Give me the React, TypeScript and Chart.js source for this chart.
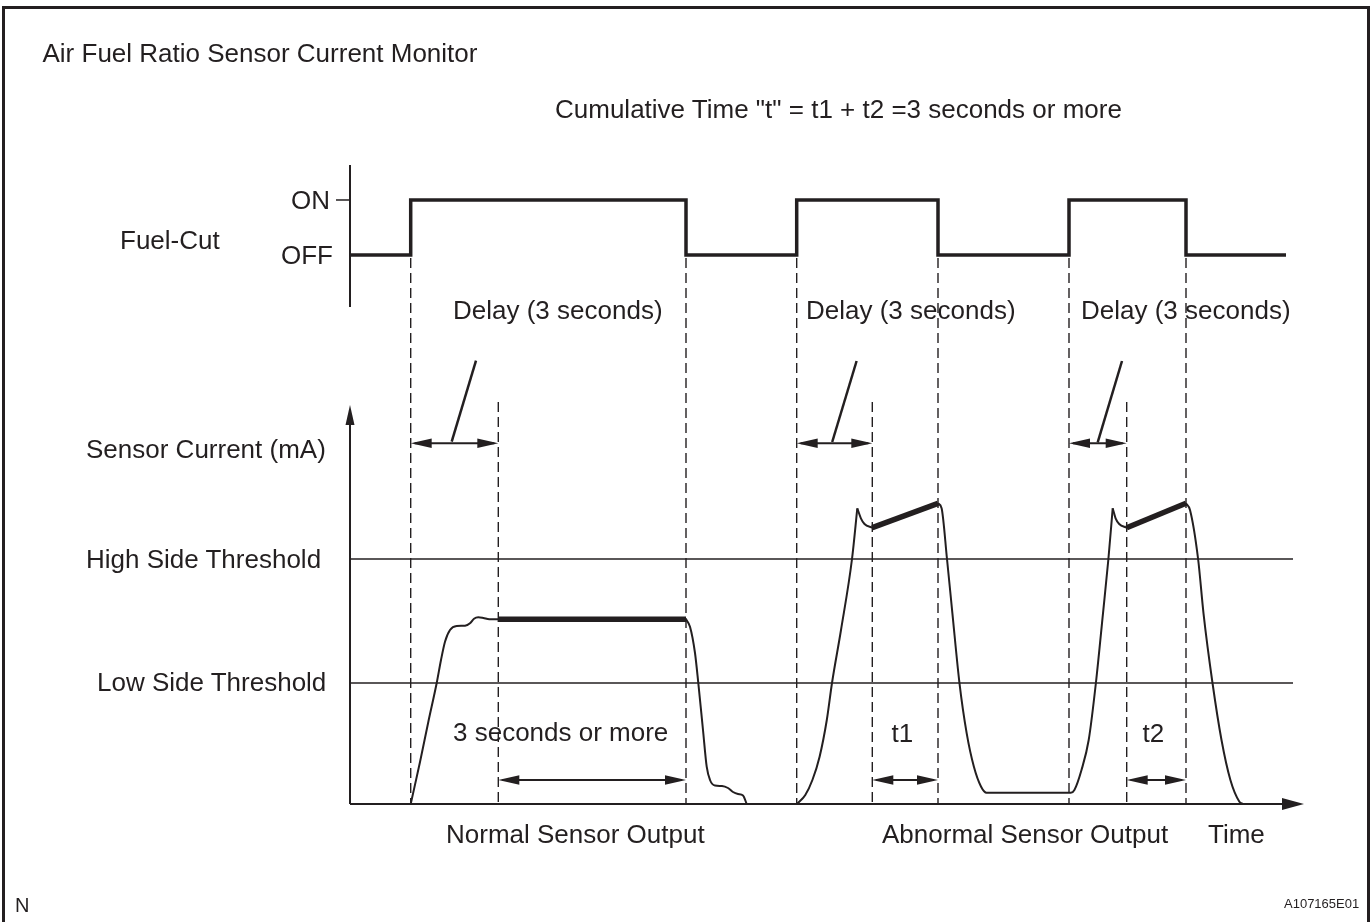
import React, { useEffect, useRef } from "react";
import { Chart, registerables } from "chart.js";

Chart.register(...registerables);

const INK = "#231f20";
const FONT = '"Liberation Sans", Arial, Helvetica, sans-serif';

// ---- time axis (arbitrary time units) ----
const fuelCutOn = [6.07, 44.67, 71.9];
const fuelCutOff = [33.6, 58.8, 83.6];
const fuelCutEnd = 93.6;
const delayEnd = [14.83, 52.23, 77.67];
const timeAxisEnd = 95.4;
const thresholdEnd = 94.3;

// ---- fuel-cut states ----
const fuelCutLevels = { OFF: 0, ON: 1 };
const fuelCutAxisRange = [-0.945, 1.636];
const onTickStart = -1.4;

// ---- sensor current (arbitrary mA units) ----
const highThreshold = 24.5;
const lowThreshold = 12.1;
const currentAxisTop = 39.9;
const delayMarkTop = 40.2;
const delayArrowLevel = 36.07;
const holdArrowLevel = 2.4;

const normalRise: [number, number][] = [
  [6.07, 0], [7.0, 4.2], [7.83, 8.2], [8.67, 12.1], [9.1, 14.4], [9.5, 16.23],
  [10.0, 17.4], [10.67, 17.8], [11.5, 17.83], [12.0, 18.07], [12.4, 18.53],
  [12.83, 18.67], [13.33, 18.6], [13.93, 18.47], [14.83, 18.47],
];
const normalHold: [number, number][] = [[14.83, 18.47], [33.6, 18.47]];
const normalFall: [number, number][] = [
  [33.6, 18.47], [34.0, 17.73], [34.5, 15.1], [34.83, 12.1], [35.3, 7.4],
  [35.67, 3.73], [36.0, 2.4], [36.5, 1.85], [37.2, 1.8], [37.8, 1.6],
  [38.3, 1.2], [38.8, 1.0], [39.3, 0.85], [39.67, 0],
];

const abnormalRise1: [number, number][] = [
  [44.7, 0], [45.53, 0.9], [46.24, 2.4], [46.96, 4.73], [47.68, 8.4],
  [48.2, 12.1], [49.1, 17.4], [50.2, 24.5], [50.73, 29.57],
];
const abnormalDip1: [number, number][] = [[50.73, 29.57], [51.09, 28.57], [51.45, 28.0], [52.23, 27.63]];
const abnormalHold1: [number, number][] = [[52.23, 27.63], [58.8, 30.07]];
const abnormalFall1: [number, number][] = [
  [58.8, 30.07], [59.16, 29.57], [59.7, 24.5], [60.24, 19.07], [60.95, 12.07],
  [61.67, 7.07], [62.39, 3.73], [63.11, 1.73], [63.65, 1.13],
];
const restingCurrent: [number, number][] = [[63.65, 1.13], [72.08, 1.13]];
const abnormalRise2: [number, number][] = [
  [72.08, 1.13], [72.44, 1.4], [73.15, 3.4], [73.87, 6.4], [74.59, 12.1],
  [75.3, 19.07], [75.84, 24.5], [76.27, 29.57],
];
const abnormalDip2: [number, number][] = [[76.27, 29.57], [76.56, 28.57], [76.92, 28.0], [77.67, 27.63]];
const abnormalHold2: [number, number][] = [[77.67, 27.63], [83.6, 30.07]];
const abnormalFall2: [number, number][] = [
  [83.6, 30.07], [84.0, 29.4], [84.81, 24.5], [85.35, 19.07], [86.25, 12.1],
  [87.15, 6.4], [88.04, 2.4], [88.94, 0.23], [89.3, 0],
];

const leaderBottoms: [number, number][] = [[10.17, 36.23], [48.22, 36.2], [74.77, 36.17]];
const leaderTops: [number, number][] = [[12.6, 44.33], [50.66, 44.3], [77.2, 44.3]];

// ---- texts ----
const texts: { t: string; x: number; cy: number; fs?: number }[] = [
  { t: "Air Fuel Ratio Sensor Current Monitor", x: 42.5, cy: 52.5 },
  { t: 'Cumulative Time "t" = t1 + t2 =3 seconds or more', x: 555, cy: 108.5 },
  { t: "ON", x: 291, cy: 199.5 },
  { t: "Fuel-Cut", x: 120, cy: 240 },
  { t: "OFF", x: 281, cy: 254.7 },
  { t: "Delay (3 seconds)", x: 453, cy: 309.5 },
  { t: "Delay (3 seconds)", x: 806, cy: 309.5 },
  { t: "Delay (3 seconds)", x: 1081, cy: 309.5 },
  { t: "Sensor Current (mA)", x: 86, cy: 448.5 },
  { t: "High Side Threshold", x: 86, cy: 558.3 },
  { t: "Low Side Threshold", x: 97, cy: 681.5 },
  { t: "3 seconds or more", x: 453, cy: 731.7 },
  { t: "t1", x: 891.5, cy: 733 },
  { t: "t2", x: 1142.5, cy: 733 },
  { t: "Normal Sensor Output", x: 446, cy: 833.5 },
  { t: "Abnormal Sensor Output", x: 882, cy: 833.5 },
  { t: "Time", x: 1208, cy: 833.5 },
  { t: "N", x: 15, cy: 904.5, fs: 20 },
  { t: "A107165E01", x: 1284, cy: 903, fs: 13 },
];

const pts = (arr: [number, number][]) => arr.map(([x, y]) => ({ x, y }));

function fuelCutPoints() {
  const out: { x: number; y: number }[] = [{ x: 0, y: fuelCutLevels.OFF }];
  fuelCutOn.forEach((on, i) => {
    out.push({ x: on, y: fuelCutLevels.OFF }, { x: on, y: fuelCutLevels.ON });
    out.push({ x: fuelCutOff[i], y: fuelCutLevels.ON }, { x: fuelCutOff[i], y: fuelCutLevels.OFF });
  });
  out.push({ x: fuelCutEnd, y: fuelCutLevels.OFF });
  return out;
}

function ds(data: { x: number; y: number }[], width: number, extra: any = {}) {
  return {
    data,
    borderColor: INK,
    backgroundColor: INK,
    borderWidth: width,
    pointRadius: 0,
    pointHoverRadius: 0,
    showLine: true,
    fill: false,
    clip: false as any,
    ...extra,
  };
}
const curve = { cubicInterpolationMode: "monotone", borderJoinStyle: "round" };

function head(ctx: CanvasRenderingContext2D, x: number, y: number, dx: number, dy: number, len: number, hw: number) {
  const bx = x - dx * len;
  const by = y - dy * len;
  ctx.beginPath();
  ctx.moveTo(x, y);
  ctx.lineTo(bx - dy * hw, by + dx * hw);
  ctx.lineTo(bx + dy * hw, by - dx * hw);
  ctx.closePath();
  ctx.fill();
}

const diagramPlugin = {
  id: "diagram",
  afterDatasetsDraw(chart: any) {
    const { ctx } = chart;
    const { x, y, y2 } = chart.scales;
    const px = (t: number) => x.getPixelForValue(t);
    const py = (v: number) => y.getPixelForValue(v);
    const py2 = (v: number) => y2.getPixelForValue(v);
    ctx.save();
    ctx.strokeStyle = INK;
    ctx.fillStyle = INK;

    // dashed guide lines
    ctx.setLineDash([10, 5]);
    ctx.lineWidth = 1.4;
    [...fuelCutOn, ...fuelCutOff].forEach((t) => {
      ctx.beginPath();
      ctx.moveTo(px(t), py2(fuelCutLevels.OFF) + 3);
      ctx.lineTo(px(t), py(0));
      ctx.stroke();
    });
    delayEnd.forEach((t) => {
      ctx.beginPath();
      ctx.moveTo(px(t), py(delayMarkTop));
      ctx.lineTo(px(t), py(0));
      ctx.stroke();
    });
    ctx.setLineDash([]);

    // double-headed arrows
    const dbl = (a: number, b: number, level: number) => {
      const xa = px(a), xb = px(b), yy = py(level);
      ctx.lineWidth = 2;
      ctx.beginPath();
      ctx.moveTo(xa + 4, yy);
      ctx.lineTo(xb - 4, yy);
      ctx.stroke();
      head(ctx, xa, yy, -1, 0, 21, 4.8);
      head(ctx, xb, yy, 1, 0, 21, 4.8);
    };
    fuelCutOn.forEach((t, i) => dbl(t, delayEnd[i], delayArrowLevel));
    delayEnd.forEach((t, i) => dbl(t, fuelCutOff[i], holdArrowLevel));

    // axis arrowheads
    head(ctx, px(0), py(currentAxisTop), 0, -1, 20, 4.5);
    head(ctx, px(timeAxisEnd), py(0), 1, 0, 22, 6);
    ctx.restore();
  },
};

export default function App() {
  const ref = useRef<HTMLCanvasElement>(null);

  useEffect(() => {
    if (!ref.current) return;
    const datasets: any[] = [
      // axes
      ds(pts([[0, 0], [timeAxisEnd - 10 / 10, 0]]), 2),
      ds(pts([[0, 0], [0, currentAxisTop - 1.5]]), 2),
      ds(pts([[0, fuelCutAxisRange[1]], [0, fuelCutAxisRange[0]]]), 2, { yAxisID: "y2" }),
      ds(pts([[onTickStart, fuelCutLevels.ON], [0, fuelCutLevels.ON]]), 1.5, { yAxisID: "y2" }),
      // thresholds
      ds(pts([[0, highThreshold], [thresholdEnd, highThreshold]]), 1.4),
      ds(pts([[0, lowThreshold], [thresholdEnd, lowThreshold]]), 1.4),
      // fuel-cut signal
      ds(fuelCutPoints(), 3.5, { yAxisID: "y2", borderJoinStyle: "miter" }),
      // normal sensor output
      ds(pts(normalRise), 2, curve),
      ds(pts(normalHold), 5.5),
      ds(pts(normalFall), 2, curve),
      // abnormal sensor output
      ds(pts(abnormalRise1), 2, curve),
      ds(pts(abnormalDip1), 2, curve),
      ds(pts(abnormalHold1), 5.5),
      ds(pts([...abnormalFall1, ...restingCurrent.slice(1), ...abnormalRise2.slice(1)]), 2, curve),
      ds(pts(abnormalDip2), 2, curve),
      ds(pts(abnormalHold2), 5.5),
      ds(pts(abnormalFall2), 2, curve),
      // leader lines
      ...leaderBottoms.map((b, i) => ds(pts([b, leaderTops[i]]), 2.5)),
    ];

    const chart = new Chart(ref.current, {
      type: "scatter",
      data: { datasets },
      options: {
        animation: false,
        responsive: false,
        maintainAspectRatio: false,
        devicePixelRatio: 1,
        events: [],
        layout: { padding: 0 },
        plugins: { legend: { display: false }, tooltip: { enabled: false }, title: { display: false } },
        scales: {
          x: { type: "linear", display: false, min: -35, max: 102 },
          y: { type: "linear", display: false, min: -11.8, max: 80.4 },
          y2: { type: "linear", display: false, position: "right", min: -12.127, max: 4.636 },
        },
      } as any,
      plugins: [diagramPlugin as any],
    });
    return () => chart.destroy();
  }, []);

  return (
    <div
      style={{
        position: "absolute",
        left: 0,
        top: 0,
        width: 1370,
        height: 922,
        overflow: "hidden",
        background: "#fff",
        fontFamily: FONT,
        color: INK,
      }}
    >
      <canvas ref={ref} width={1370} height={922} style={{ position: "absolute", left: 0, top: 0, display: "block" }} />
      <div
        style={{
          position: "absolute",
          left: 2,
          top: 6,
          width: 1368,
          height: 916,
          boxSizing: "border-box",
          borderTop: `3px solid ${INK}`,
          borderLeft: `3px solid ${INK}`,
          borderRight: `3px solid ${INK}`,
        }}
      />
      {texts.map((d, i) => {
        const fs = d.fs ?? 26;
        return (
          <div
            key={i}
            style={{
              position: "absolute",
              left: d.x,
              top: d.cy - 0.4885 * fs,
              fontSize: fs,
              lineHeight: `${fs}px`,
              whiteSpace: "pre",
            }}
          >
            {d.t}
          </div>
        );
      })}
    </div>
  );
}
